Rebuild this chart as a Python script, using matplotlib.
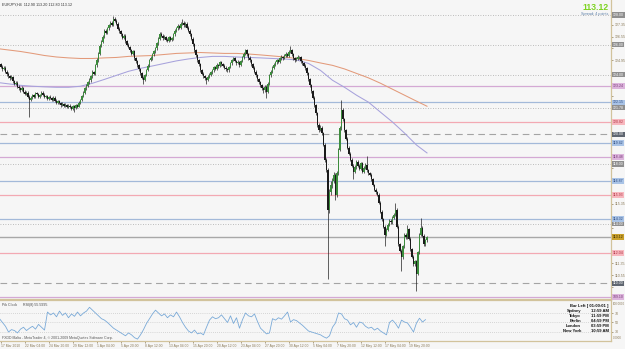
import numpy as np
import matplotlib.pyplot as plt

plt.rcParams['font.family'] = ['Liberation Sans', 'DejaVu Sans']

BG = "#f6f6f6"
TAN = "#d2c39c"
AXIS_TXT = "#8a7a58"

# ---- data (EURJPY H4) ----
title_text = "EURJPY,H4  112.90 113.20 112.80 113.12"
first_open = 124.90
closes = [
    124.82, 124.65, 124.71, 124.50, 124.38, 124.44, 124.20, 124.02, 123.90, 123.75, 123.82, 123.55,
    123.40, 123.46, 123.20, 123.08, 122.95, 123.10, 122.85, 122.70, 122.78, 122.50, 122.28, 122.45,
    122.60, 122.52, 122.75, 122.68, 122.50, 122.62, 122.80, 122.66, 122.48, 122.55, 122.38, 122.50,
    122.42, 122.30, 122.45, 122.25, 122.12, 122.20, 122.08, 121.95, 122.05, 121.90, 121.98, 121.85,
    121.92, 121.82, 121.70, 121.88, 121.75, 121.95, 121.85, 122.10, 122.28, 122.55, 122.80, 123.08,
    123.25, 123.50, 123.62, 123.90, 124.15, 124.05, 124.62, 124.95, 125.40, 125.95, 126.20, 126.55,
    126.95, 126.80, 127.10, 127.30, 127.48, 127.35, 127.75, 127.60, 127.40, 127.08, 126.90, 126.70,
    126.48, 126.60, 126.25, 126.00, 125.85, 125.62, 125.40, 125.55, 125.10, 124.90, 124.62, 124.35,
    124.10, 123.80, 123.62, 123.95, 124.30, 124.60, 124.95, 125.10, 125.35, 125.55, 125.75, 126.10,
    126.40, 126.75, 126.60, 126.45, 126.55, 126.35, 126.28, 126.50, 126.30, 126.42, 126.70, 126.95,
    127.10, 127.28, 127.15, 127.40, 127.48, 127.30, 127.42, 127.15, 126.95, 126.70, 126.40, 126.05,
    125.62, 125.30, 124.95, 124.70, 124.28, 124.05, 123.90, 123.75, 123.62, 123.85, 124.00, 124.15,
    124.28, 124.50, 124.40, 124.65, 124.55, 124.82, 124.70, 124.60, 124.45, 124.35, 124.28, 124.50,
    124.75, 124.95, 125.08, 124.90, 124.75, 124.85, 124.62, 124.90, 125.15, 125.40, 125.62, 125.35,
    125.10, 124.95, 124.70, 124.45, 124.20, 123.95, 123.70, 123.50, 123.30, 123.08, 122.95, 123.20,
    122.82, 123.40, 123.95, 124.20, 124.45, 124.65, 124.82, 124.95, 124.85, 125.08, 125.20, 125.10,
    125.28, 125.40, 125.25, 125.50, 125.62, 125.35, 125.10, 124.95, 125.05, 125.20, 125.15, 124.90,
    124.75, 124.60, 124.42, 124.10, 123.70, 123.28, 122.90, 122.45, 121.95, 121.40, 120.62, 120.30,
    120.45, 120.08, 119.30, 118.28, 117.60, 114.95, 116.10, 116.62, 116.90, 117.28, 115.95, 117.40,
    118.95, 120.40, 121.62, 121.00, 120.28, 119.70, 119.08, 118.70, 118.28, 117.90, 117.48, 117.80,
    118.15, 117.90, 117.70, 118.05, 117.48, 117.75, 117.95, 117.60, 117.40, 117.28, 117.00, 116.60,
    116.28, 116.10, 115.95, 115.40, 114.82, 114.30, 113.80, 113.28, 113.60, 113.95, 114.20, 114.10,
    114.42, 114.60, 114.95, 113.80, 112.62, 112.20, 111.75, 112.50, 113.28, 113.10, 113.62, 113.00,
    112.28, 111.80, 111.28, 111.50, 110.62, 112.10, 113.28, 113.75, 113.20, 112.62, 112.90, 113.12,
]
highs = [
    125.05, 124.95, 124.85, 124.80, 124.62, 124.55, 124.58, 124.30, 124.15, 124.00, 123.95, 123.92,
    123.65, 123.58, 123.55, 123.30, 123.18, 123.22, 123.18, 122.95, 122.88, 122.88, 122.60, 122.55,
    122.72, 122.70, 122.85, 122.85, 122.75, 122.72, 122.92, 122.88, 122.75, 122.65, 122.62, 122.58,
    122.60, 122.52, 122.55, 122.55, 122.35, 122.30, 122.28, 122.15, 122.15, 122.12, 122.08, 122.05,
    122.00, 122.02, 121.90, 121.98, 121.95, 122.05, 122.05, 122.20, 122.38, 122.65, 122.90, 123.18,
    123.38, 123.60, 123.75, 124.00, 124.28, 124.25, 124.72, 125.08, 125.52, 126.05, 126.35, 126.65,
    127.05, 127.05, 127.20, 127.42, 127.58, 127.60, 127.95, 127.85, 127.70, 127.50, 127.18, 127.00,
    126.80, 126.70, 126.72, 126.35, 126.10, 125.95, 125.72, 125.65, 125.65, 125.20, 125.00, 124.72,
    124.45, 124.20, 123.90, 124.05, 124.40, 124.70, 125.05, 125.22, 125.45, 125.65, 125.85, 126.20,
    126.50, 126.85, 126.85, 126.70, 126.65, 126.62, 126.45, 126.60, 126.58, 126.52, 126.80, 127.05,
    127.20, 127.38, 127.35, 127.50, 127.75, 127.58, 127.52, 127.50, 127.25, 127.05, 126.80, 126.50,
    126.12, 125.72, 125.40, 125.05, 124.80, 124.38, 124.15, 124.00, 123.85, 123.95, 124.10, 124.25,
    124.38, 124.60, 124.60, 124.75, 124.72, 124.92, 124.90, 124.78, 124.68, 124.55, 124.45, 124.60,
    124.85, 125.05, 125.20, 125.18, 125.00, 124.95, 124.92, 125.00, 125.25, 125.50, 125.72, 125.70,
    125.45, 125.22, 125.05, 124.80, 124.55, 124.30, 124.05, 123.80, 123.60, 123.40, 123.18, 123.30,
    123.28, 123.50, 124.05, 124.30, 124.55, 124.75, 124.92, 125.05, 125.05, 125.18, 125.30, 125.28,
    125.38, 125.50, 125.48, 125.62, 125.95, 125.70, 125.45, 125.20, 125.15, 125.30, 125.28, 125.22,
    125.00, 124.85, 124.70, 124.50, 124.20, 123.80, 123.38, 123.00, 122.55, 122.05, 121.50, 120.75,
    120.62, 120.58, 120.18, 119.40, 118.40, 117.75, 116.30, 116.85, 117.10, 117.45, 117.40, 117.55,
    119.10, 120.55, 122.28, 121.75, 121.10, 120.38, 119.80, 119.20, 118.82, 118.40, 118.00, 117.92,
    118.28, 118.25, 118.00, 118.15, 118.12, 117.85, 118.05, 118.55, 117.70, 117.50, 117.38, 117.10,
    116.70, 116.38, 116.20, 116.05, 115.50, 114.92, 114.40, 113.90, 113.70, 114.05, 114.30, 114.32,
    114.52, 114.70, 115.42, 115.05, 113.90, 112.72, 112.30, 112.60, 113.38, 113.40, 113.95, 113.72,
    113.10, 112.38, 111.90, 111.60, 111.60, 112.20, 113.38, 114.42, 113.85, 113.30, 113.00, 113.20,
]
lows = [
    124.70, 124.55, 124.58, 124.42, 124.25, 124.30, 124.10, 123.92, 123.80, 123.62, 123.68, 123.45,
    123.30, 123.32, 123.10, 122.98, 122.85, 122.88, 122.78, 122.60, 122.62, 122.40, 121.15, 122.20,
    122.35, 122.45, 122.45, 122.60, 122.42, 122.40, 122.55, 122.58, 122.40, 122.40, 122.30, 122.30,
    122.35, 122.20, 122.22, 122.18, 122.02, 122.05, 122.00, 121.85, 121.88, 121.82, 121.82, 121.75,
    121.78, 121.75, 121.60, 121.62, 121.50, 121.68, 121.78, 121.80, 122.02, 122.20, 122.48, 122.72,
    122.98, 123.15, 123.40, 123.52, 123.80, 123.95, 123.98, 124.50, 124.85, 125.30, 125.85, 126.10,
    126.45, 126.70, 126.72, 127.00, 127.20, 127.25, 127.28, 127.50, 127.30, 126.98, 126.80, 126.60,
    126.38, 126.40, 126.15, 125.90, 125.75, 125.52, 125.30, 125.32, 125.00, 124.80, 124.50, 124.25,
    124.00, 123.70, 123.35, 123.55, 123.88, 124.22, 124.50, 124.88, 125.00, 125.28, 125.48, 125.68,
    126.00, 126.32, 126.50, 126.35, 126.38, 126.25, 126.18, 126.20, 126.22, 126.22, 126.35, 126.62,
    126.85, 127.02, 127.05, 127.08, 127.30, 127.20, 127.22, 127.05, 126.85, 126.60, 126.30, 125.95,
    125.52, 125.20, 124.85, 124.60, 124.18, 123.95, 123.80, 123.65, 123.35, 123.55, 123.78, 123.92,
    124.05, 124.20, 124.30, 124.32, 124.45, 124.48, 124.60, 124.50, 124.38, 124.25, 124.18, 124.20,
    124.42, 124.65, 124.88, 124.82, 124.65, 124.68, 124.52, 124.55, 124.82, 125.05, 125.30, 125.25,
    125.00, 124.85, 124.60, 124.35, 124.10, 123.85, 123.60, 123.40, 123.20, 122.98, 122.80, 122.85,
    122.42, 122.75, 123.32, 123.85, 124.12, 124.38, 124.55, 124.72, 124.75, 124.78, 125.00, 125.00,
    125.02, 125.20, 125.15, 125.18, 125.42, 125.28, 125.00, 124.85, 124.88, 124.98, 125.05, 124.80,
    124.65, 124.50, 124.32, 124.00, 123.60, 123.18, 122.80, 122.35, 121.85, 121.30, 120.50, 120.15,
    120.20, 119.95, 119.20, 118.15, 117.45, 110.28, 114.70, 115.90, 116.40, 116.75, 115.60, 115.80,
    117.30, 118.85, 120.30, 120.90, 120.15, 119.60, 118.98, 118.60, 118.18, 117.80, 117.00, 117.38,
    117.70, 117.80, 117.60, 117.62, 117.38, 117.40, 117.65, 117.50, 117.30, 117.18, 116.90, 116.50,
    116.18, 116.00, 115.85, 115.30, 114.72, 114.20, 113.70, 112.48, 113.18, 113.50, 113.85, 114.00,
    114.00, 114.32, 114.50, 113.70, 112.52, 112.10, 110.82, 111.65, 112.40, 112.98, 113.00, 112.90,
    112.18, 111.70, 111.18, 111.18, 109.48, 110.55, 112.00, 113.18, 113.10, 112.52, 112.52, 112.80,
]
# moving averages, one value every 8 bars (last one on the final bar)
ma_slow = [125.75, 125.65, 125.55, 125.42, 125.28, 125.18, 125.12, 125.08, 125.08, 125.12,
           125.15, 125.22, 125.25, 125.28, 125.35, 125.42, 125.45, 125.48, 125.45, 125.42,
           125.42, 125.38, 125.32, 125.25, 125.18, 125.08, 124.95, 124.78, 124.62, 124.38,
           124.08, 123.78, 123.42, 123.02, 122.62, 122.22, 121.88]
ma_fast = [123.48, 123.38, 123.28, 123.22, 123.18, 123.15, 123.15, 123.22, 123.42, 123.68,
           123.95, 124.22, 124.42, 124.58, 124.75, 124.92, 125.05, 125.15, 125.22, 125.22,
           125.18, 125.15, 125.12, 125.08, 125.05, 124.98, 124.75, 124.28, 123.62, 123.15,
           122.62, 122.15, 121.48, 120.82, 120.08, 119.28, 118.75]
# RSI(8), one value every 2 bars
rsi = [
    60, 58, 50, 42, 30, 35, 33, 28, 36, 40, 33, 38,
    42, 36, 46, 40, 34, 72, 66, 70, 62, 74, 65, 70,
    60, 68, 63, 72, 64, 70, 74, 82, 76, 70, 64, 58,
    55, 50, 44, 38, 34, 30, 26, 22, 28, 24, 18, 15,
    24, 35, 48, 58, 68, 76, 70, 64, 68, 60, 66, 62,
    72, 62, 50, 40, 32, 28, 34, 26, 28, 24, 40, 55,
    62, 58, 60, 66, 58, 50, 64, 48, 60, 38, 56, 70,
    64, 62, 68, 52, 38, 32, 26, 28, 58, 55, 60, 57,
    64, 72, 51, 56, 54, 49, 44, 38, 32, 30, 28, 26,
    24, 20, 17, 22, 40, 49, 70, 68, 58, 55, 45, 50,
    40, 51, 49, 42, 38, 40, 34, 38, 32, 28, 24, 50,
    55, 48, 38, 55, 51, 49, 40, 30, 49, 59, 51, 56,
]
time_labels = ["17 Mar 2010", "22 Mar 04:00", "24 Mar 20:00", "29 Mar 12:00", "1 Apr 04:00",
               "5 Apr 20:00", "8 Apr 12:00", "13 Apr 04:00", "15 Apr 20:00", "20 Apr 12:00",
               "23 Apr 04:00", "27 Apr 20:00", "30 Apr 12:00", "5 May 04:00", "7 May 20:00",
               "12 May 12:00", "17 May 04:00", "19 May 20:00"]
price_ticks = [128.15, 127.35, 126.55, 125.75, 124.95, 124.15, 123.35, 122.55, 121.75, 120.95,
               120.15, 119.35, 118.55, 117.75, 116.95, 116.15, 115.35, 114.55, 113.75, 112.95,
               112.15, 111.35, 110.55, 109.75]
dotted_levels = [128.00, 126.00, 124.00, 121.78, 118.00, 114.00]
dashed_levels = [120.00, 110.00]
blue_levels = [122.15, 119.42, 116.87, 114.32]
pink_levels = [120.82, 115.93, 112.04]
mauve_levels = [123.24, 118.48, 109.10]
bid = 113.12
clock_cities = ["Sydney", "Tokyo", "Berlin", "London", "New York"]
clock_times = ["12:59 AM", "11:59 PM", "04:59 PM", "03:59 PM", "10:59 AM"]

# ---- figure ----
W, H = 625, 349
PX_PER_YEN = 14.92
fig = plt.figure(figsize=(W / 100, H / 100), dpi=100, facecolor=BG)
ax = fig.add_axes([0, 1 - 299 / H, 611 / W, 299 / H], facecolor=BG)
sub = fig.add_axes([0, 1 - 341 / H, 611 / W, 41 / H], facecolor=BG)

n = len(closes)
idx = np.arange(n)
opens = np.array([first_open] + closes[:-1])
c = np.array(closes)
x_lo, x_hi = 3.5 / 1.5, (611 + 3.5) / 1.5

# horizontal levels
for lv in dotted_levels:
    ax.axhline(lv, color="#a9a9a9", lw=0.6, ls=(0, (1, 2)), zorder=1)
for lv in dashed_levels:
    ax.axhline(lv, color="#a4a4a4", lw=0.8, ls=(0, (6, 4)), zorder=1)
for lv in blue_levels:
    ax.axhline(lv, color="#a3b9d9", lw=0.9, zorder=1)
for lv in pink_levels:
    ax.axhline(lv, color="#f3a9b3", lw=0.9, zorder=1)
for lv in mauve_levels:
    ax.axhline(lv, color="#d4a9d4", lw=0.9, zorder=1)
ax.axhline(bid, color="#a8a8a8", lw=1.0, zorder=1)

# moving averages
ma_x = np.append(np.arange(len(ma_slow) - 1) * 8, n - 1)
ax.plot(ma_x, ma_slow, color="#e39a7a", lw=0.75, zorder=2)
ax.plot(ma_x, ma_fast, color="#a7a2dc", lw=0.75, zorder=2)

# candles
ax.vlines(idx, lows, highs, color="#222222", lw=0.5, zorder=3)
up = c >= opens
body_lo = np.minimum(opens, c)
body_h = np.maximum(np.abs(c - opens), 0.03)
ax.bar(idx[up], body_h[up], bottom=body_lo[up], width=0.9, color="#3c8c3c", zorder=4)
ax.bar(idx[~up], body_h[~up], bottom=body_lo[~up], width=0.9, color="#1a1a1a", zorder=4)

ax.set_xlim(x_lo, x_hi)
ax.set_ylim(129.0 - 299 / PX_PER_YEN, 129.0)
ax.set_xticks([])

# price scale: labels hidden where a line tag sits on top (as MT4 does)
tag_levels = dotted_levels + dashed_levels + blue_levels + pink_levels + mauve_levels + [bid]
tick_txt = []
for t in price_ticks:
    near = min(abs(t - lv) for lv in tag_levels) * PX_PER_YEN
    tick_txt.append("" if near < 6 else f"{t:.2f}")
ax.yaxis.tick_right()
ax.set_yticks(price_ticks)
ax.set_yticklabels(tick_txt)
ax.tick_params(axis="y", labelsize=2.6, length=1.5, width=0.5, pad=1,
               colors=AXIS_TXT)
for s in ("left", "top"):
    ax.spines[s].set_visible(False)
for s in ("right", "bottom"):
    ax.spines[s].set_color(TAN)
    ax.spines[s].set_linewidth(0.9)


def price_tag(level, fc, tc):
    ax.text(1.003, level, f"{level:.2f}", transform=ax.get_yaxis_transform(),
            fontsize=2.5, color=tc, va="center", ha="left", clip_on=False, zorder=6,
            bbox=dict(boxstyle="square,pad=0.2", fc=fc, ec="none"))


for lv in dotted_levels:
    price_tag(lv, "#8f8f8f", "white")
for lv in dashed_levels:
    price_tag(lv, "#5f6670", "white")
for lv in blue_levels:
    price_tag(lv, "#a9c3e6", "#2b4a80")
for lv in pink_levels:
    price_tag(lv, "#f7b7be", "#b03040")
for lv in mauve_levels:
    price_tag(lv, "#dcb4dc", "#7a3a7a")
price_tag(bid, "#c9a02a", "#3a2a00")

# header texts
fig.text(2 / W, 1 - 4.5 / H, title_text, fontsize=2.7, color="#333333", va="center")
fig.text(609 / W, 1 - 7 / H, f"{bid:.2f}", fontsize=6.2, fontweight="bold",
         color="#7ed321", ha="right", va="center")
fig.text(609 / W, 1 - 14 / H, "Spread: 4 points.", fontsize=2.7, color="#5a7ea8",
         ha="right", va="center")

# ---- RSI sub window ----
rsi_x = np.arange(len(rsi)) * 2
for lv in (70, 50, 30):
    sub.axhline(lv, color="#b8b8b8", lw=0.5, ls=(0, (1, 2)), zorder=1)
sub.plot(rsi_x, rsi, color="#7aaad8", lw=0.6, zorder=2)
sub.set_xlim(x_lo, x_hi)
sub.set_ylim(11, 97.4)
sub.yaxis.tick_right()
sub.set_yticks([70, 50, 30])
sub.tick_params(axis="y", labelsize=2.6, length=1.5, width=0.5, pad=1, colors=AXIS_TXT)
sub.set_xticks(3 + 16 * np.arange(len(time_labels)))
sub.set_xticklabels(time_labels, ha="left")
sub.tick_params(axis="x", labelsize=2.4, length=1.5, width=0.5, pad=1, colors=AXIS_TXT)
sub.spines["left"].set_visible(False)
for s in ("right", "bottom", "top"):
    sub.spines[s].set_color(TAN)
    sub.spines[s].set_linewidth(0.9)
sub.text(1.003, 0.90, "100.0000", transform=sub.transAxes, fontsize=2.1, color=AXIS_TXT,
         va="center", ha="left", clip_on=False)
sub.text(1.003, 0.08, "0.0000", transform=sub.transAxes, fontsize=2.1, color=AXIS_TXT,
         va="center", ha="left", clip_on=False)

fig.text(2 / W, 1 - 305 / H, "Pik Clock", fontsize=2.6, color="#444444", va="center")
fig.text(23 / W, 1 - 305 / H, "RSI(8) 55.5995", fontsize=2.6, color="#444444", va="center")
fig.text(2 / W, 1 - 338.5 / H,
         "FXDD Malta - MetaTrader 4, \u00a9 2001-2009 MetaQuotes Software Corp.",
         fontsize=2.5, color="#555555", va="center")

fig.text(609 / W, 1 - 306 / H, "Bar Left [ 01:00:01 ]", fontsize=3.0, fontweight="bold",
         color="#111111", ha="right", va="center")
for k, (city, tm) in enumerate(zip(clock_cities, clock_times)):
    yy = 1 - (311 + 4.9 * k) / H
    fig.text(581 / W, yy, city, fontsize=3.0, fontweight="bold", color="#111111",
             ha="right", va="center")
    fig.text(609 / W, yy, tm, fontsize=3.0, fontweight="bold", color="#111111",
             ha="right", va="center")

fig.savefig("out.png", dpi=100, facecolor=BG)
